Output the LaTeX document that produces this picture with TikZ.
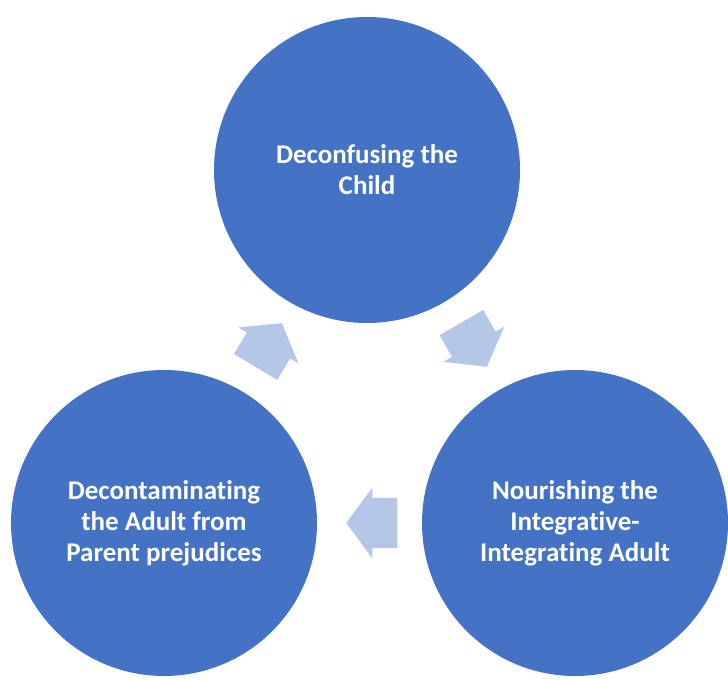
\documentclass[tikz,border=0pt]{standalone}
\usepackage{fontspec}
\setmainfont{Carlito}[Ligatures=NoCommon, RawFeature={-liga;-calt;-clig}]
\usetikzlibrary{shapes.arrows}

\definecolor{stepblue}{HTML}{4472C4}
\definecolor{arrowblue}{HTML}{B4C7E7}

\tikzset{
    stage/.style={circle, fill=stepblue, minimum size=306pt, inner sep=0pt,
        text=white, align=center, font=\fontsize{27}{31}\selectfont\bfseries},
    cyclearrow/.style={single arrow, fill=arrowblue, inner xsep=0pt, inner ysep=25pt,
        minimum height=51pt, single arrow head extend=10pt,
        single arrow tip angle=107, anchor=tip}
}

\begin{document}
\begin{tikzpicture}[x=1pt, y=1pt]
    \useasboundingbox (0,0) rectangle (728,680);

    % the three stages of the cycle
    \node[stage] (child) at (367,510) {Deconfusing the\\Child};
    \node[stage] (adult) at (575,157) {Nourishing the\\Integrative-\\Integrating Adult};
    \node[stage] (parent) at (164,157) {Decontaminating\\the Adult from\\Parent prejudices};

    % arrows between the stages, placed by their tips
    \node[cyclearrow, rotate=-60] (a1) at (487,313) {};
    \node[cyclearrow, rotate=180] (a2) at (346,157) {};
    \node[cyclearrow, rotate=59] (a3) at (282,357) {};
\end{tikzpicture}
\end{document}
